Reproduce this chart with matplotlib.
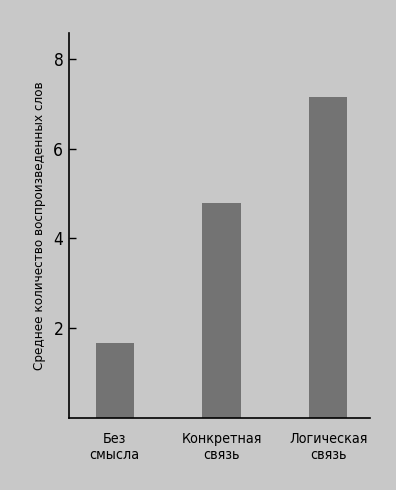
import matplotlib.pyplot as plt
import numpy as np

categories = ['Без\nсмысла', 'Конкретная\nсвязь', 'Логическая\nсвязь']
values = [1.67, 4.78, 7.16]
yticks = [2, 4, 6, 8]

plt.rcParams['font.family'] = ['DejaVu Sans']
plt.rcParams['font.stretch'] = 'condensed'

bg = '#c8c8c8'
fig = plt.figure(figsize=(3.96, 4.90), dpi=100, facecolor=bg)
ax = fig.add_axes([0.174, 0.147, 0.760, 0.786])
ax.set_facecolor(bg)

x = np.arange(len(categories))
ax.bar(x, values, width=0.36, color='#737373')

ax.set_xlim(-0.43, 2.39)
ax.set_ylim(0, 8.58)
ax.set_yticks(yticks)
ax.set_yticklabels([str(t) for t in yticks], fontsize=12.5)
ax.set_xticks(x)
ax.set_xticklabels(categories, fontsize=10.3, linespacing=1.2)

ax.spines['right'].set_color(None)
ax.spines['top'].set_color(None)
ax.spines['left'].set_linewidth(1.2)
ax.spines['bottom'].set_linewidth(1.2)
ax.tick_params(axis='y', direction='in', length=5, width=1, pad=4)
ax.tick_params(axis='x', length=0, pad=10)

ax.set_ylabel('Среднее количество воспроизведенных слов', fontsize=9.6, labelpad=5)

fig.savefig('out.png', dpi=100, facecolor=bg)
